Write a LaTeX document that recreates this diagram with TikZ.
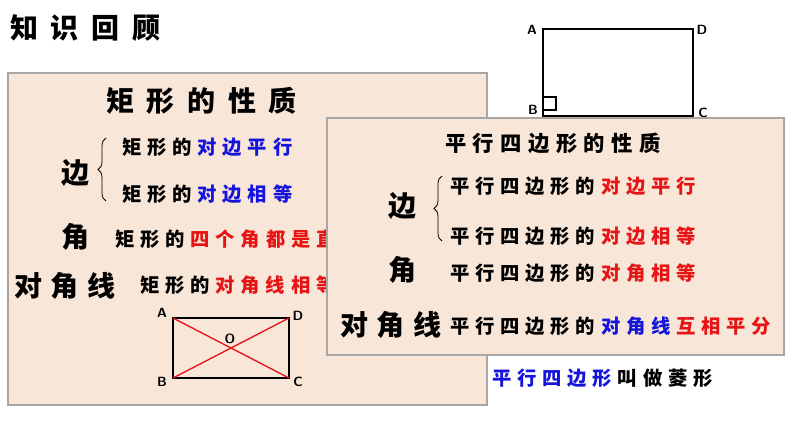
\documentclass[tikz,border=0pt]{standalone}
\usepackage{fontspec}
\setmainfont{Noto Sans CJK SC}
\newfontfamily\spaced[LetterSpace=30]{Noto Sans CJK SC}
\newfontfamily\wide[LetterSpace=45]{Noto Sans CJK SC}
\usetikzlibrary{decorations.pathreplacing}
\definecolor{peach}{RGB}{248,230,216}
\definecolor{myblue}{RGB}{20,20,220}
\definecolor{myred}{RGB}{230,20,20}
\newcommand\gp{\hspace{0.3em}}
\tikzset{
 panel/.style={draw=gray!70,fill=peach,line width=0.8pt},
 txt/.style={anchor=west,inner sep=0pt,font=\spaced\fontsize{14.5}{14.5}\selectfont\bfseries},
 big/.style={inner sep=0pt,font=\spaced\fontsize{21}{21}\selectfont\bfseries},
 ttlf/.style={anchor=west,inner sep=0pt,font=\wide\fontsize{21}{21}\selectfont\bfseries},
 lbl/.style={inner sep=0pt,font=\fontsize{10}{10}\selectfont\bfseries\sffamily},
 br/.style={decorate,decoration={brace,amplitude=6pt},line width=0.6pt}
}
\begin{document}
\begin{tikzpicture}[x=0.75pt,y=-0.75pt]
\useasboundingbox (0,0) rectangle (794,447);
\node[ttlf] (ttl) at (10,28) {知识回顾};
% ABCD top right
\draw[line width=1pt] (543,29) rectangle (693,116);
\draw[line width=0.8pt] (543,97) -- (556,97) -- (556,110) -- (543,110);
\node[lbl] (a1) at (532,30) {A};
\node[lbl] (d1) at (702,30) {D};
\node[lbl] (b1) at (533,110) {B};
\node[lbl] (c1) at (703,113) {C};
% bottom right text
\node[txt] (rh) at (492,378) {\textcolor{myblue}{平行四边形}\gp 叫做菱形};
% left panel
\draw[panel] (8,73) rectangle (487,405);
\node[ttlf] (lt) at (106,101) {矩形的性质};
\node[big] (lb) at (75,173) {边};
\draw[br] (106,201) -- (106,138);
\node[txt] (l1) at (122,147) {矩形的\gp\textcolor{myblue}{对边平行}};
\node[txt] (l2) at (122,194) {矩形的\gp\textcolor{myblue}{对边相等}};
\node[big] (la) at (75,237) {角};
\node[txt] (l3) at (115,239) {矩形的\gp\textcolor{myred}{四个角都是直角}};
\node[big,anchor=west] (ld) at (14,286) {对角线};
\node[txt] (l4) at (140,285) {矩形的\gp\textcolor{myred}{对角线相等}};
\coordinate (A) at (173,318); \coordinate (D) at (289,318);
\coordinate (B) at (173,378); \coordinate (C) at (289,378);
\draw[line width=1.2pt] (A) rectangle (C);
\draw[myred,line width=1pt] (A) -- (C) (B) -- (D);
\node[lbl] (a2) at (162,313) {A};
\node[lbl] (d2) at (298,316) {D};
\node[lbl] (b2) at (162,382) {B};
\node[lbl] (c2) at (298,382) {C};
\node[lbl] (o2) at (230,339) {O};
% right panel
\draw[panel] (327,118) rectangle (784,355);
\node[txt,font=\spaced\fontsize{16}{16}\selectfont\bfseries] (rt) at (445,143) {平行四边形的性质};
\node[big] (rb) at (402,206) {边};
\draw[br] (442,241) -- (442,176);
\node[txt] (r1) at (450,186) {平行四边形的\gp\textcolor{myred}{对边平行}};
\node[txt] (r2) at (450,236) {平行四边形的\gp\textcolor{myred}{对边相等}};
\node[big] (ra) at (402,270) {角};
\node[txt] (r3) at (450,273) {平行四边形的\gp\textcolor{myred}{对角相等}};
\node[big,anchor=west] (rd) at (340,325) {对角线};
\node[txt] (r4) at (450,326) {平行四边形的\gp\textcolor{myblue}{对角线}\gp\textcolor{myred}{互相平分}};
\end{tikzpicture}
\end{document}
